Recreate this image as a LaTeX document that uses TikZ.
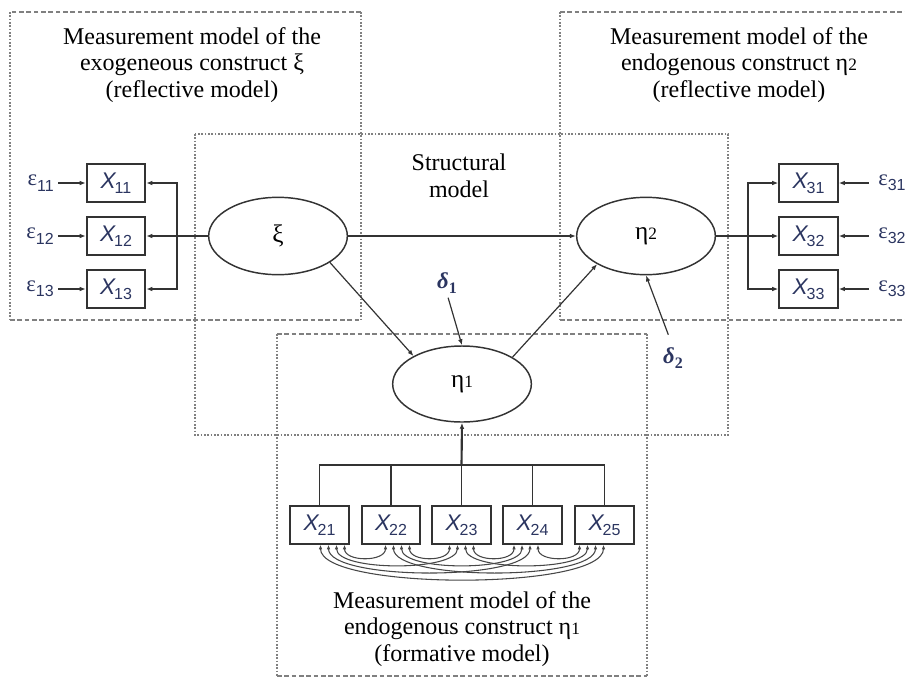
\documentclass[tikz,border=0pt]{standalone}
\usepackage{fontspec}
\setmainfont{Liberation Serif}
\newfontfamily\arialfam{Liberation Sans}
\usetikzlibrary{arrows.meta,shapes.geometric,calc}

\definecolor{labblue}{HTML}{2B3560}
\definecolor{ink}{HTML}{333333}
\definecolor{regiongray}{HTML}{808080}

% indicator, error and disturbance labels
\newcommand\xvar[1]{{\arialfam\itshape\fontsize{17}{17}\selectfont X}\kern-0.8pt\raisebox{-4pt}{\arialfam\fontsize{12}{12}\selectfont #1}}
\newcommand\evar[1]{{\fontsize{17}{17}\selectfont ε}\raisebox{-4pt}{\arialfam\fontsize{12}{12}\selectfont #1}}
\newcommand\dvar[1]{{\bfseries\itshape\fontsize{17}{17}\selectfont δ}\raisebox{-4pt}{\bfseries\fontsize{12}{12}\selectfont #1}}
\newcommand\etan[1]{η{\fontsize{13}{13}\selectfont #1}}

\begin{document}
\begin{tikzpicture}[x=0.75pt,y=-0.75pt,
  region/.style={draw=regiongray, line width=0.9pt, dash pattern=on 3.5pt off 2pt},
  regiondot/.style={draw=regiongray, line width=0.9pt, dash pattern=on 1.3pt off 1.2pt},
  construct/.style={ellipse, draw=ink, line width=1.1pt, minimum width=104pt,
    minimum height=58pt, inner sep=0pt, font=\fontsize{19}{19}\selectfont},
  indicator/.style={rectangle, draw=ink, line width=1.4pt, minimum width=44pt,
    minimum height=28pt, inner sep=0pt, text=labblue},
  heading/.style={align=center, font=\fontsize{18}{20}\selectfont},
  errlabel/.style={text=labblue, inner sep=0pt},
  conn/.style={draw=ink, line width=0.9pt},
  arr/.style={conn, -{Latex[length=4.5pt,width=3.5pt]}},
  boldline/.style={draw=ink, line width=1.6pt},
  corr/.style={draw=ink!90, line width=0.8pt,
    {Latex[length=3.5pt,width=2.6pt]}-{Latex[length=3.5pt,width=2.6pt]}}]

\useasboundingbox (0,0) rectangle (905,678);

% ---- regions ----
% measurement model of xi
\draw[region] (361,12) -- (10,12);
\draw[regiondot] (10,12) -- (10,320);
\draw[region] (10,320) -- (361,320);
\draw[regiondot] (361,12) -- (361,320);
% measurement model of eta2
\draw[region] (560,12) -- (905,12);
\draw[regiondot] (560,12) -- (560,320);
\draw[region] (560,320) -- (905,320);
% structural model
\draw[regiondot] (195,134) rectangle (728,435);
% measurement model of eta1
\draw[region] (277,334) -- (647,334);
\draw[regiondot] (277,334) -- (277,676);
\draw[regiondot] (647,334) -- (647,676);
\draw[region] (277,676) -- (647,676);

% ---- headings ----
\node[heading] (hl) at (192,65) {Measurement model of the\\exogeneous construct ξ\\(reflective model)};
\node[heading] (hr) at (739,65) {Measurement model of the\\endogenous construct \etan{2}\\(reflective model)};
\node[heading] (hs) at (459,176) {Structural\\model};
\node[heading] (hb) at (462,629) {Measurement model of the\\endogenous construct \etan{1}\\(formative model)};

% ---- constructs ----
\node[construct] (xi) at (278,236) {ξ};
\node[construct] (eta2) at (646,236) {\etan{2}};
\node[construct, minimum height=57pt] (eta1) at (462,384) {\etan{1}};

% ---- reflective indicators of xi ----
\coordinate (jl) at (177,236);
\foreach \r/\rowy in {1/183, 2/236, 3/289} {
  \node[indicator] (x1\r) at (116,\rowy) {\xvar{1\r}};
  \node[errlabel, anchor=east] (e1\r) at (54,\rowy) {\evar{1\r}};
  \draw[arr, shorten <=3pt] (e1\r.east) -- (x1\r.west);
}
\draw[boldline] (xi.west) -- (jl);
\draw[arr] (jl) |- (x11.east);
\draw[arr] (jl) -- (x12.east);
\draw[arr] (jl) |- (x13.east);

% ---- reflective indicators of eta2 ----
\coordinate (jr) at (748,236);
\foreach \r/\rowy in {1/183, 2/236, 3/289} {
  \node[indicator] (x3\r) at (808.5,\rowy) {\xvar{3\r}};
  \node[errlabel, anchor=west] (e3\r) at (878,\rowy) {\evar{3\r}};
  \draw[arr, shorten <=7pt] (e3\r.west) -- (x3\r.east);
}
\draw[boldline] (eta2.east) -- (jr);
\draw[arr] (jr) |- (x31.west);
\draw[arr] (jr) -- (x32.west);
\draw[arr] (jr) |- (x33.west);

% ---- structural paths ----
\draw[arr] (xi.east) -- (eta2.west);
\draw[arr] (xi.-27) -- (eta1.150);
\draw[arr] (eta1.28) -- (eta2.210);

\node[errlabel] (d1) at (447,283) {\dvar{1}};
\draw[arr, shorten <=3pt] (d1.south) -- (eta1.north);
\node[errlabel] (d2) at (673,358) {\dvar{2}};
\draw[arr, shorten <=10pt] (d2.north) -- (eta2.south);

% ---- formative indicators of eta1 ----
\foreach \k/\cx in {1/319.5, 2/391, 3/461.5, 4/532.5, 5/604.5}
  \node[indicator] (x2\k) at (\cx,525) {\xvar{2\k}};
\coordinate (bus) at (461.5,465);
\draw[conn] (x21.north) |- (bus) -| (x25.north);
\foreach \k in {2,3,4}
  \draw[conn] (x2\k.north) -- (x2\k.north |- bus);
\draw[boldline, -{Latex[length=4.5pt,width=3.5pt]}] (bus) -- (eta1.south);

% correlations among the formative indicators
\foreach \i in {1,...,4} {
  \pgfmathtruncatemacro\nxt{\i+1}
  \foreach \j in {\nxt,...,5} {
    \pgfmathsetmacro\oi{(3-\i)*6.5 + ((\i-1)+(5-\j)-1.5)*8}
    \pgfmathsetmacro\oj{(3-\j)*6.5 + ((\j-1-\i)-1.5)*8}
    \pgfmathsetmacro\dep{8+9.5*(\j-\i)}
    \draw[corr] ($(x2\i.south)+(\oi,0)$) .. controls +(0,\dep) and +(0,\dep) .. ($(x2\j.south)+(\oj,0)$);
  }
}
\end{tikzpicture}
\end{document}
